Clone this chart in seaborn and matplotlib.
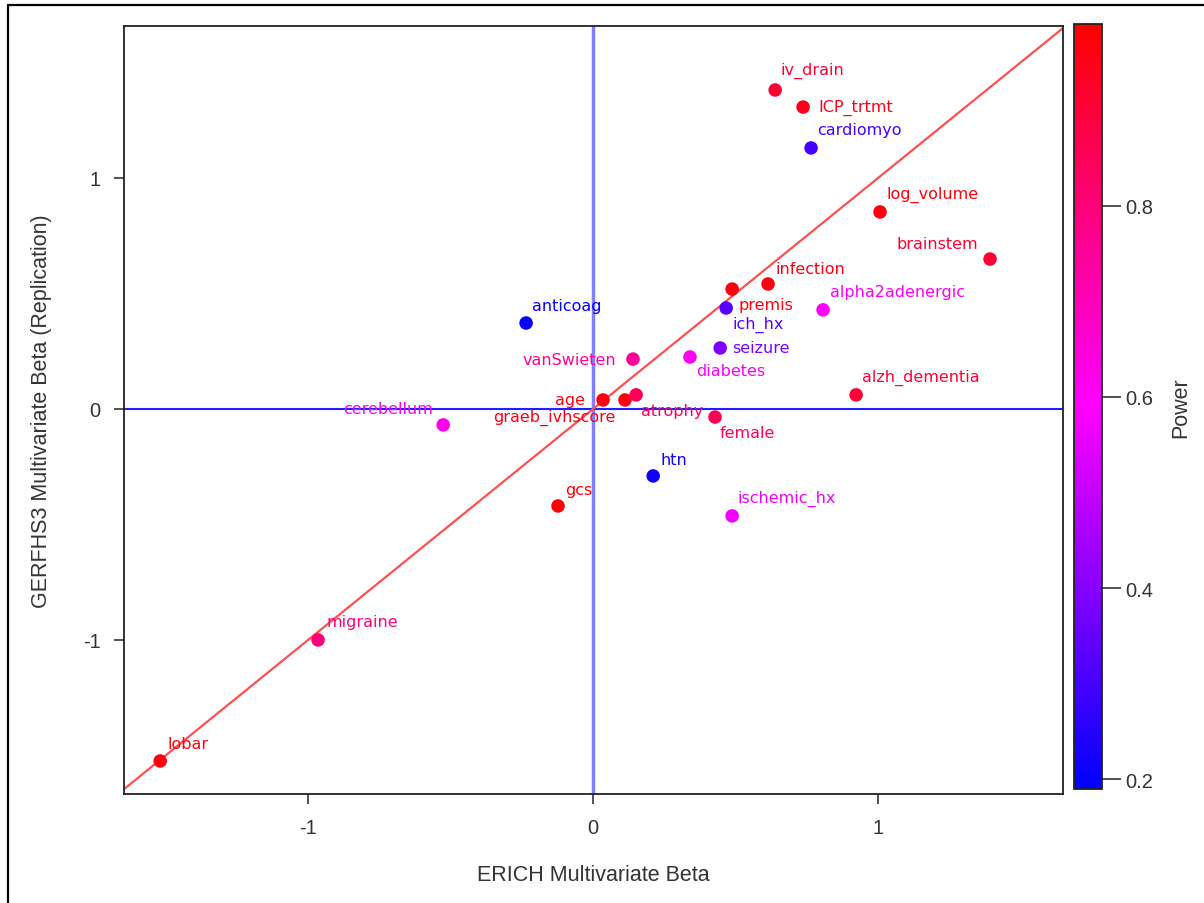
import numpy as np
import pandas as pd
import matplotlib
matplotlib.use("Agg")
import matplotlib.pyplot as plt
import matplotlib.colors as mcolors
from matplotlib.lines import Line2D
import seaborn as sns

# ---- data ----
labels = ["lobar", "migraine", "cerebellum", "anticoag", "gcs", "age",
          "graeb_ivhscore", "atrophy", "vanSwieten", "diabetes", "seizure",
          "ich_hx", "premis", "infection", "female", "htn", "ischemic_hx",
          "iv_drain", "ICP_trtmt", "cardiomyo", "log_volume", "brainstem",
          "alpha2adenergic", "alzh_dementia"]
erich_beta = [-1.519, -0.965, -0.526, -0.235, -0.123, 0.035,
              0.112, 0.151, 0.140, 0.340, 0.446,
              0.467, 0.488, 0.614, 0.428, 0.211, 0.488,
              0.639, 0.737, 0.765, 1.007, 1.393,
              0.807, 0.923]
gerfhs3_beta = [-1.524, -1.000, -0.069, 0.372, -0.420, 0.039,
                0.039, 0.061, 0.216, 0.225, 0.264,
                0.437, 0.519, 0.541, -0.035, -0.290, -0.463,
                1.381, 1.307, 1.130, 0.853, 0.649,
                0.429, 0.061]
power = [0.97, 0.80, 0.62, 0.20, 0.98, 0.97,
         0.96, 0.85, 0.75, 0.61, 0.39,
         0.33, 0.97, 0.96, 0.85, 0.22, 0.57,
         0.91, 0.95, 0.30, 0.97, 0.91,
         0.60, 0.90]
# label offsets in pixels (dx, dy, ha) relative to the marker
label_pos = {
    "lobar": (7, 17, "left"), "migraine": (8, 18, "left"),
    "cerebellum": (-10, 16, "right"), "anticoag": (6, 18, "left"),
    "gcs": (7, 16, "left"), "age": (-18, 0, "right"),
    "graeb_ivhscore": (-9, -17, "right"), "atrophy": (5, -16, "left"),
    "vanSwieten": (-17, 0, "right"), "diabetes": (6, -14, "left"),
    "seizure": (12, 0, "left"), "ich_hx": (6, -16, "left"),
    "premis": (6, -15, "left"), "infection": (7, 16, "left"),
    "female": (5, -15, "left"), "htn": (7, 16, "left"),
    "ischemic_hx": (5, 18, "left"), "iv_drain": (5, 20, "left"),
    "ICP_trtmt": (15, 0, "left"), "cardiomyo": (6, 18, "left"),
    "log_volume": (6, 18, "left"), "brainstem": (-12, 16, "right"),
    "alpha2adenergic": (7, 18, "left"), "alzh_dementia": (6, 18, "left"),
}

df = pd.DataFrame({"label": labels, "erich": erich_beta,
                   "gerfhs3": gerfhs3_beta, "power": power})

vmin, vmax = 0.19, 0.99
cmap = mcolors.LinearSegmentedColormap.from_list(
    "bmr", [(0.0, "#0000ff"), (0.5, "#ff00ff"), (1.0, "#ff0000")])
norm = mcolors.Normalize(vmin=vmin, vmax=vmax)

sns.set_style("white")
plt.rcParams["font.family"] = ["Liberation Sans", "DejaVu Sans"]

W, H = 1204, 904
fig = plt.figure(figsize=(W / 100, H / 100), dpi=100)
ax = fig.add_axes([124 / W, 1 - 795 / H, (1063 - 124) / W, (795 - 27) / H])

xlim = (-1.646, 1.649)
ylim = (-1.667, 1.658)
ax.set_xlim(*xlim)
ax.set_ylim(*ylim)

ax.axvline(0, color="#8080ff", lw=2.5, zorder=1)
ax.axhline(0, color="#2020ff", lw=1.5, zorder=1)
ax.plot([-1.7, 1.7], [-1.7, 1.7], color="#ff5050", lw=1.6, zorder=1)

sns.scatterplot(data=df, x="erich", y="gerfhs3", hue="power", palette=cmap,
                hue_norm=norm, s=95, edgecolor="none", legend=False,
                ax=ax, zorder=3)

for lab, xv, yv, pv in zip(labels, erich_beta, gerfhs3_beta, power):
    dx, dy, ha = label_pos[lab]
    ax.annotate(lab, (xv, yv), xytext=(dx * 0.72, dy * 0.72),
                textcoords="offset points", ha=ha, va="center",
                fontsize=11.5, color=cmap(norm(pv)),
                family=["DejaVu Sans"], zorder=4)

ax.set_xticks([-1, 0, 1])
ax.set_yticks([-1, 0, 1])
ax.set_xticklabels(["-1", "0", "1"])
ax.set_yticklabels(["-1", "0", "1"])
ax.tick_params(axis="both", direction="out", length=7, width=1.2,
               color="#333333", labelsize=14.5, labelcolor="#333333", pad=10,
               bottom=True, left=True)
for sp in ax.spines.values():
    sp.set_color("#222222")
    sp.set_linewidth(1.3)
ax.set_xlabel("ERICH Multivariate Beta", fontsize=15.5, color="#333333",
              labelpad=20)
ax.set_ylabel("GERFHS3 Multivariate Beta (Replication)", fontsize=15.5,
              color="#333333", labelpad=22)

# colorbar
cax = fig.add_axes([1074 / W, 1 - 790 / H, 28 / W, (790 - 25) / H])
sm = matplotlib.cm.ScalarMappable(norm=norm, cmap=cmap)
cb = fig.colorbar(sm, cax=cax)
cb.set_ticks([0.2, 0.4, 0.6, 0.8])
cb.set_ticklabels(["0.2", "0.4", "0.6", "0.8"])
cb.outline.set_edgecolor("#222222")
cb.outline.set_linewidth(1.3)
cax.tick_params(direction="out", length=14, width=1.2, color="#333333",
                labelsize=14.5, labelcolor="#333333", pad=3)
cb.set_label("Power", fontsize=15.5, color="#333333", labelpad=12)

# outer frame
fig.add_artist(Line2D([8 / W, 8 / W], [0, 1 - 6 / H], transform=fig.transFigure,
                      color="black", lw=1.6))
fig.add_artist(Line2D([8 / W, 1], [1 - 6 / H, 1 - 6 / H], transform=fig.transFigure,
                      color="black", lw=1.6))

fig.savefig("out.png", dpi=100, facecolor="white")
